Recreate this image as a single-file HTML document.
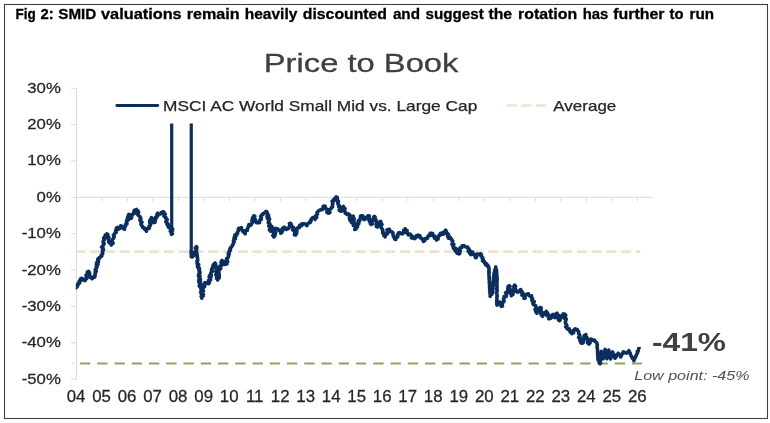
<!DOCTYPE html>
<html lang="en"><head><meta charset="utf-8"><title>Fig 2: SMID valuations</title>
<style>
html,body{margin:0;padding:0;background:#fff;}
body{width:770px;height:423px;overflow:hidden;}
svg{display:block;will-change:transform;}
text{font-family:"Liberation Sans",Arial,sans-serif;}
</style></head><body>
<svg width="770" height="423" viewBox="0 0 770 423">
<rect x="0" y="0" width="770" height="423" fill="#ffffff"/>
<rect x="4.5" y="4.5" width="763" height="414" fill="none" stroke="#404040" stroke-width="1.1"/>
<text y="18.8" font-size="14.9" font-weight="bold" fill="#000" stroke="#000" stroke-width="0.3"><tspan x="15.5" textLength="20.3" lengthAdjust="spacingAndGlyphs">Fig</tspan> <tspan x="40.5" textLength="13.2" lengthAdjust="spacingAndGlyphs">2:</tspan> <tspan x="58.3" textLength="38.0" lengthAdjust="spacingAndGlyphs">SMID</tspan> <tspan x="101.0" textLength="80.7" lengthAdjust="spacingAndGlyphs">valuations</tspan> <tspan x="186.7" textLength="52.9" lengthAdjust="spacingAndGlyphs">remain</tspan> <tspan x="244.7" textLength="52.7" lengthAdjust="spacingAndGlyphs">heavily</tspan> <tspan x="302.8" textLength="84.2" lengthAdjust="spacingAndGlyphs">discounted</tspan> <tspan x="392.9" textLength="27.1" lengthAdjust="spacingAndGlyphs">and</tspan> <tspan x="425.5" textLength="58.3" lengthAdjust="spacingAndGlyphs">suggest</tspan> <tspan x="488.4" textLength="23.7" lengthAdjust="spacingAndGlyphs">the</tspan> <tspan x="518.0" textLength="59.1" lengthAdjust="spacingAndGlyphs">rotation</tspan> <tspan x="582.7" textLength="25.7" lengthAdjust="spacingAndGlyphs">has</tspan> <tspan x="613.2" textLength="51.3" lengthAdjust="spacingAndGlyphs">further</tspan> <tspan x="669.6" textLength="14.0" lengthAdjust="spacingAndGlyphs">to</tspan> <tspan x="689.5" textLength="24.5" lengthAdjust="spacingAndGlyphs">run</tspan></text>
<text x="263.8" y="72.3" font-size="26.6" fill="#404040" stroke="#404040" stroke-width="0.3" textLength="194.6" lengthAdjust="spacingAndGlyphs">Price to Book</text>
<g stroke="#dcdcdc" stroke-width="1" fill="none">
<path d="M76.5,88 V379"/>
<path d="M71,88.3 H76.5"/>
<path d="M71,124.7 H76.5"/>
<path d="M71,161.0 H76.5"/>
<path d="M71,197.4 H76.5"/>
<path d="M71,233.7 H76.5"/>
<path d="M71,270.1 H76.5"/>
<path d="M71,306.4 H76.5"/>
<path d="M71,342.8 H76.5"/>
<path d="M71,379.1 H76.5"/>
<path d="M76.5,197.3 H653.4"/>
<path d="M101.9,197.3 V201.5"/>
<path d="M127.4,197.3 V201.5"/>
<path d="M152.9,197.3 V201.5"/>
<path d="M178.4,197.3 V201.5"/>
<path d="M203.9,197.3 V201.5"/>
<path d="M229.4,197.3 V201.5"/>
<path d="M254.9,197.3 V201.5"/>
<path d="M280.4,197.3 V201.5"/>
<path d="M305.9,197.3 V201.5"/>
<path d="M331.4,197.3 V201.5"/>
<path d="M356.9,197.3 V201.5"/>
<path d="M382.4,197.3 V201.5"/>
<path d="M407.9,197.3 V201.5"/>
<path d="M433.4,197.3 V201.5"/>
<path d="M458.9,197.3 V201.5"/>
<path d="M484.4,197.3 V201.5"/>
<path d="M509.9,197.3 V201.5"/>
<path d="M535.4,197.3 V201.5"/>
<path d="M560.9,197.3 V201.5"/>
<path d="M586.4,197.3 V201.5"/>
<path d="M611.9,197.3 V201.5"/>
<path d="M637.4,197.3 V201.5"/>
</g>
<text x="60.8" y="92.8" font-size="14.7" fill="#262626" stroke="#262626" stroke-width="0.25" text-anchor="end" transform="translate(60.8 0) scale(1.14 1) translate(-60.8 0)">30%</text>
<text x="60.8" y="129.2" font-size="14.7" fill="#262626" stroke="#262626" stroke-width="0.25" text-anchor="end" transform="translate(60.8 0) scale(1.14 1) translate(-60.8 0)">20%</text>
<text x="60.8" y="165.5" font-size="14.7" fill="#262626" stroke="#262626" stroke-width="0.25" text-anchor="end" transform="translate(60.8 0) scale(1.14 1) translate(-60.8 0)">10%</text>
<text x="60.8" y="201.9" font-size="14.7" fill="#262626" stroke="#262626" stroke-width="0.25" text-anchor="end" transform="translate(60.8 0) scale(1.14 1) translate(-60.8 0)">0%</text>
<text x="60.8" y="238.2" font-size="14.7" fill="#262626" stroke="#262626" stroke-width="0.25" text-anchor="end" transform="translate(60.8 0) scale(1.14 1) translate(-60.8 0)">-10%</text>
<text x="60.8" y="274.6" font-size="14.7" fill="#262626" stroke="#262626" stroke-width="0.25" text-anchor="end" transform="translate(60.8 0) scale(1.14 1) translate(-60.8 0)">-20%</text>
<text x="60.8" y="310.9" font-size="14.7" fill="#262626" stroke="#262626" stroke-width="0.25" text-anchor="end" transform="translate(60.8 0) scale(1.14 1) translate(-60.8 0)">-30%</text>
<text x="60.8" y="347.2" font-size="14.7" fill="#262626" stroke="#262626" stroke-width="0.25" text-anchor="end" transform="translate(60.8 0) scale(1.14 1) translate(-60.8 0)">-40%</text>
<text x="60.8" y="383.6" font-size="14.7" fill="#262626" stroke="#262626" stroke-width="0.25" text-anchor="end" transform="translate(60.8 0) scale(1.14 1) translate(-60.8 0)">-50%</text>
<text x="76.1" y="401.7" font-size="15.9" fill="#262626" stroke="#262626" stroke-width="0.25" text-anchor="middle" transform="translate(76.1 0) scale(1.06 1) translate(-76.1 0)">04</text>
<text x="101.6" y="401.7" font-size="15.9" fill="#262626" stroke="#262626" stroke-width="0.25" text-anchor="middle" transform="translate(101.6 0) scale(1.06 1) translate(-101.6 0)">05</text>
<text x="127.1" y="401.7" font-size="15.9" fill="#262626" stroke="#262626" stroke-width="0.25" text-anchor="middle" transform="translate(127.1 0) scale(1.06 1) translate(-127.1 0)">06</text>
<text x="152.6" y="401.7" font-size="15.9" fill="#262626" stroke="#262626" stroke-width="0.25" text-anchor="middle" transform="translate(152.6 0) scale(1.06 1) translate(-152.6 0)">07</text>
<text x="178.1" y="401.7" font-size="15.9" fill="#262626" stroke="#262626" stroke-width="0.25" text-anchor="middle" transform="translate(178.1 0) scale(1.06 1) translate(-178.1 0)">08</text>
<text x="203.7" y="401.7" font-size="15.9" fill="#262626" stroke="#262626" stroke-width="0.25" text-anchor="middle" transform="translate(203.7 0) scale(1.06 1) translate(-203.7 0)">09</text>
<text x="229.2" y="401.7" font-size="15.9" fill="#262626" stroke="#262626" stroke-width="0.25" text-anchor="middle" transform="translate(229.2 0) scale(1.06 1) translate(-229.2 0)">10</text>
<text x="254.7" y="401.7" font-size="15.9" fill="#262626" stroke="#262626" stroke-width="0.25" text-anchor="middle" transform="translate(254.7 0) scale(1.06 1) translate(-254.7 0)">11</text>
<text x="280.2" y="401.7" font-size="15.9" fill="#262626" stroke="#262626" stroke-width="0.25" text-anchor="middle" transform="translate(280.2 0) scale(1.06 1) translate(-280.2 0)">12</text>
<text x="305.7" y="401.7" font-size="15.9" fill="#262626" stroke="#262626" stroke-width="0.25" text-anchor="middle" transform="translate(305.7 0) scale(1.06 1) translate(-305.7 0)">13</text>
<text x="331.2" y="401.7" font-size="15.9" fill="#262626" stroke="#262626" stroke-width="0.25" text-anchor="middle" transform="translate(331.2 0) scale(1.06 1) translate(-331.2 0)">14</text>
<text x="356.7" y="401.7" font-size="15.9" fill="#262626" stroke="#262626" stroke-width="0.25" text-anchor="middle" transform="translate(356.7 0) scale(1.06 1) translate(-356.7 0)">15</text>
<text x="382.2" y="401.7" font-size="15.9" fill="#262626" stroke="#262626" stroke-width="0.25" text-anchor="middle" transform="translate(382.2 0) scale(1.06 1) translate(-382.2 0)">16</text>
<text x="407.7" y="401.7" font-size="15.9" fill="#262626" stroke="#262626" stroke-width="0.25" text-anchor="middle" transform="translate(407.7 0) scale(1.06 1) translate(-407.7 0)">17</text>
<text x="433.2" y="401.7" font-size="15.9" fill="#262626" stroke="#262626" stroke-width="0.25" text-anchor="middle" transform="translate(433.2 0) scale(1.06 1) translate(-433.2 0)">18</text>
<text x="458.8" y="401.7" font-size="15.9" fill="#262626" stroke="#262626" stroke-width="0.25" text-anchor="middle" transform="translate(458.8 0) scale(1.06 1) translate(-458.8 0)">19</text>
<text x="484.3" y="401.7" font-size="15.9" fill="#262626" stroke="#262626" stroke-width="0.25" text-anchor="middle" transform="translate(484.3 0) scale(1.06 1) translate(-484.3 0)">20</text>
<text x="509.8" y="401.7" font-size="15.9" fill="#262626" stroke="#262626" stroke-width="0.25" text-anchor="middle" transform="translate(509.8 0) scale(1.06 1) translate(-509.8 0)">21</text>
<text x="535.3" y="401.7" font-size="15.9" fill="#262626" stroke="#262626" stroke-width="0.25" text-anchor="middle" transform="translate(535.3 0) scale(1.06 1) translate(-535.3 0)">22</text>
<text x="560.8" y="401.7" font-size="15.9" fill="#262626" stroke="#262626" stroke-width="0.25" text-anchor="middle" transform="translate(560.8 0) scale(1.06 1) translate(-560.8 0)">23</text>
<text x="586.3" y="401.7" font-size="15.9" fill="#262626" stroke="#262626" stroke-width="0.25" text-anchor="middle" transform="translate(586.3 0) scale(1.06 1) translate(-586.3 0)">24</text>
<text x="611.8" y="401.7" font-size="15.9" fill="#262626" stroke="#262626" stroke-width="0.25" text-anchor="middle" transform="translate(611.8 0) scale(1.06 1) translate(-611.8 0)">25</text>
<text x="637.3" y="401.7" font-size="15.9" fill="#262626" stroke="#262626" stroke-width="0.25" text-anchor="middle" transform="translate(637.3 0) scale(1.06 1) translate(-637.3 0)">26</text>
<clipPath id="plotclip"><rect x="75.8" y="80" width="600" height="320"/></clipPath>
<path clip-path="url(#plotclip)" d="M76.6,251.7 H639.2" stroke="#eae3ce" stroke-width="2.8" stroke-dasharray="7.6 7.15" stroke-linecap="round" fill="none"/>
<path d="M80,363.45 H642" stroke="#92a354" stroke-width="2" stroke-dasharray="10.3 6.95" fill="none"/>
<path d="M72.3,363.45 H73.3" stroke="#92a354" stroke-width="1.6" opacity="0.6"/>
<path clip-path="url(#plotclip)" d="M74.5,290.0 L74.8,288.9 L75.1,287.8 L76.3,287.4 L77.1,286.9 L76.6,285.4 L77.9,285.3 L78.1,284.4 L78.1,283.3 L79.4,283.2 L79.8,282.4 L79.3,281.1 L80.5,280.6 L80.2,279.4 L80.7,278.6 L81.9,278.2 L82.8,278.7 L83.0,280.0 L84.7,279.4 L85.0,280.7 L84.7,279.7 L85.8,279.2 L86.8,278.7 L86.3,277.6 L86.2,276.7 L87.7,276.4 L86.1,274.9 L88.1,274.7 L87.2,273.5 L87.2,272.6 L87.4,271.8 L88.5,271.3 L89.1,272.0 L88.3,273.1 L89.8,273.6 L89.2,274.6 L89.3,275.4 L90.1,276.1 L90.0,277.0 L90.7,277.7 L92.1,277.4 L92.3,278.8 L92.3,277.5 L93.2,277.1 L94.6,277.2 L95.0,276.3 L95.0,275.4 L94.8,274.6 L95.5,273.8 L95.3,273.0 L95.1,272.1 L96.3,271.4 L96.2,270.5 L95.3,269.6 L96.1,268.8 L96.1,268.0 L97.0,267.2 L96.3,266.3 L97.1,265.7 L96.4,264.5 L98.1,264.3 L96.6,262.8 L97.5,262.2 L98.5,261.7 L97.6,260.4 L98.5,259.9 L97.9,258.8 L99.5,258.4 L99.4,257.5 L100.4,257.3 L100.7,256.4 L101.7,256.2 L101.4,254.7 L102.3,254.4 L102.8,253.6 L102.6,252.8 L102.6,252.0 L102.3,251.2 L103.2,250.4 L103.5,249.6 L102.5,248.7 L102.9,247.9 L101.6,247.1 L102.6,246.3 L103.2,245.5 L103.3,244.6 L104.2,243.8 L104.0,242.9 L103.0,241.8 L103.4,240.9 L103.8,240.1 L104.5,239.5 L103.6,238.1 L104.9,237.7 L104.7,236.6 L105.0,235.8 L105.3,234.9 L107.0,234.8 L106.9,233.8 L107.9,234.4 L107.9,235.2 L107.8,236.1 L107.1,237.2 L109.0,237.5 L108.4,238.5 L108.5,239.3 L108.8,240.1 L108.5,241.3 L109.0,242.1 L109.3,243.0 L110.9,243.2 L111.1,244.2 L111.3,245.1 L111.3,244.2 L112.7,243.7 L113.1,242.9 L111.7,241.5 L112.0,240.7 L112.4,239.9 L112.7,239.1 L113.5,238.4 L113.8,237.6 L114.2,236.9 L113.7,235.9 L113.4,235.0 L114.5,234.4 L114.6,233.6 L115.2,232.9 L116.2,232.4 L115.9,231.4 L115.7,230.6 L116.1,229.8 L116.5,229.1 L116.3,228.2 L117.4,227.4 L117.8,229.5 L118.8,228.8 L119.8,228.3 L120.5,227.7 L120.8,226.8 L120.7,225.7 L121.5,226.1 L122.1,226.8 L123.2,226.9 L123.0,228.4 L124.5,228.1 L124.5,229.4 L124.0,228.2 L124.6,227.5 L124.9,226.7 L125.6,226.1 L125.4,225.0 L125.6,224.2 L127.0,223.8 L126.4,222.8 L126.5,221.9 L127.2,221.2 L126.6,220.2 L128.6,219.7 L128.2,218.7 L127.4,217.7 L127.8,216.9 L128.1,216.0 L128.3,215.2 L128.8,214.4 L130.0,214.7 L129.2,216.4 L129.5,217.3 L130.9,217.4 L131.4,218.2 L131.7,217.4 L131.3,216.2 L131.7,215.4 L132.5,214.8 L132.7,213.9 L134.2,213.6 L133.9,212.5 L133.9,211.3 L134.3,210.3 L136.5,210.8 L136.4,209.4 L136.7,210.2 L137.8,210.6 L137.3,211.7 L138.7,212.0 L138.1,213.3 L137.5,214.4 L138.1,215.1 L138.8,215.7 L139.5,216.3 L140.2,216.9 L140.3,217.8 L140.9,218.4 L139.9,219.6 L140.6,220.2 L140.3,221.1 L141.5,221.6 L142.0,222.3 L141.0,223.4 L140.9,224.3 L141.4,225.0 L141.7,225.7 L142.6,226.3 L142.6,227.4 L143.3,228.0 L144.7,228.1 L144.7,229.2 L145.6,229.7 L146.7,230.0 L146.4,231.3 L145.9,230.1 L146.8,229.6 L147.2,228.8 L148.4,228.6 L149.4,228.1 L148.9,226.9 L149.0,226.1 L150.2,225.6 L150.6,224.8 L150.7,224.0 L149.7,222.9 L149.6,222.0 L149.8,221.3 L149.9,220.5 L150.1,219.7 L151.2,219.1 L152.0,218.5 L151.4,217.5 L151.1,218.6 L152.2,218.9 L152.2,219.8 L152.2,220.7 L154.0,220.7 L153.2,222.0 L153.9,222.6 L155.1,222.2 L155.1,221.3 L155.4,220.5 L155.1,219.4 L154.8,218.4 L156.4,218.1 L155.8,217.0 L157.0,216.6 L157.7,215.9 L156.9,214.7 L157.2,213.9 L157.7,213.2 L158.5,214.4 L159.7,214.1 L160.8,213.8 L161.2,212.7 L161.9,212.2 L162.7,211.7 L163.9,211.9 L163.3,212.9 L163.7,213.7 L165.3,214.1 L164.1,215.3 L164.0,216.2 L164.9,216.8 L165.8,217.4 L165.6,218.3 L166.7,218.9 L167.2,219.6 L166.4,220.7 L165.8,221.9 L166.8,222.4 L167.4,223.1 L167.0,224.3 L168.3,224.6 L167.8,225.8 L168.9,226.3 L168.5,227.3 L170.0,227.7 L170.2,228.6 L170.4,229.4 L170.7,230.2 L170.3,231.3 L171.2,231.9 L171.1,232.8 L172.0,233.4 L171.5,234.5 L172.4,233.7 L171.2,232.9 L171.5,232.1 L171.8,231.3 L172.5,230.5 L171.5,229.6 L172.6,228.8 L171.7,228.0" stroke="#0a2f5f" stroke-width="3.55" fill="none" stroke-linejoin="round" stroke-linecap="butt"/>
<path d="M191.3,250.0 L191.3,250.8 L191.2,251.7 L191.2,252.6 L192.4,253.4 L191.4,254.2 L192.0,255.1 L192.4,256.0 L191.3,256.8 L192.4,257.0 L192.6,255.3 L193.8,255.5 L194.1,254.6 L194.9,254.0 L194.9,253.0 L194.7,252.0 L195.4,251.3 L195.7,250.5 L195.9,249.7 L196.6,249.0 L195.2,247.9 L196.3,247.2 L196.3,246.4 L196.9,247.2 L196.9,248.0 L195.9,248.9 L196.5,249.7 L196.6,250.5 L196.6,251.3 L196.2,252.2 L196.0,253.1 L197.1,253.8 L196.9,254.7 L197.2,255.5 L197.3,256.3 L197.0,257.2 L197.5,258.0 L197.7,258.8 L197.6,259.7 L197.8,260.5 L196.9,261.5 L197.5,262.2 L197.2,263.1 L197.1,264.0 L198.7,264.7 L198.1,265.6 L197.4,266.5 L197.7,267.3 L199.3,268.0 L199.5,268.8 L198.8,269.7 L198.8,270.6 L199.8,271.3 L199.5,272.2 L200.0,273.0 L198.7,274.0 L198.6,274.8 L198.4,275.7 L200.1,276.4 L199.0,277.3 L199.2,278.1 L200.4,278.9 L198.8,279.8 L198.7,280.7 L200.5,281.4 L198.9,282.4 L200.0,283.1 L200.3,283.9 L200.2,284.8 L199.2,285.7 L199.7,286.5 L201.3,287.2 L200.8,288.1 L200.7,288.9 L201.2,289.7 L201.6,290.5 L201.5,291.4 L200.7,292.3 L202.3,293.0 L201.3,293.9 L201.6,294.8 L202.6,295.5 L202.1,296.4 L201.5,297.3 L201.9,298.1 L202.0,297.3 L201.2,296.3 L203.3,295.7 L203.0,294.8 L203.5,294.1 L201.7,293.0 L202.1,292.2 L201.8,291.3 L203.5,290.7 L202.5,289.7 L202.3,288.8 L203.2,288.1 L203.3,287.2 L204.6,286.8 L204.6,285.9 L203.7,284.7 L203.8,283.9 L205.6,283.6 L205.0,282.5 L205.9,282.9 L206.8,283.5 L208.1,282.5 L208.8,283.7 L208.0,282.7 L209.5,282.2 L209.1,281.3 L208.5,280.3 L210.6,279.9 L210.1,279.0 L210.6,278.3 L209.2,277.2 L211.1,276.7 L209.5,275.6 L211.4,275.1 L210.7,274.2 L210.6,273.3 L211.2,272.6 L211.3,271.8 L212.5,271.4 L211.5,270.0 L211.6,269.1 L212.7,268.6 L212.5,267.6 L212.6,266.7 L213.0,265.9 L213.2,265.0 L213.8,264.3 L214.4,263.6 L215.1,263.0 L215.6,263.7 L214.8,264.7 L215.9,265.4 L215.6,266.2 L216.4,266.9 L216.1,267.8 L217.0,268.5 L216.6,269.4 L217.2,270.1 L215.8,271.2 L216.3,271.9 L217.2,272.6 L216.7,273.5 L215.8,274.5 L217.7,275.0 L216.3,276.1 L217.3,276.7 L217.3,277.6 L216.6,278.5 L217.7,279.2 L217.6,280.0 L217.8,279.2 L218.4,278.4 L219.2,277.8 L218.0,276.6 L219.3,276.1 L219.2,275.2 L219.2,274.3 L218.9,273.4 L219.0,272.5 L218.6,271.5 L218.9,270.8 L219.0,269.9 L220.1,269.3 L220.8,268.6 L219.9,267.6 L219.9,266.7 L219.9,265.9 L221.7,265.5 L221.9,264.7 L221.7,263.8 L221.0,262.8 L221.1,262.0 L221.4,261.2 L222.0,260.5 L222.7,261.1 L223.8,261.2 L223.9,262.3 L224.8,262.7 L224.4,264.4 L225.7,264.3 L227.0,263.9 L226.4,262.8 L226.0,261.8 L227.8,261.6 L226.7,260.3 L227.1,259.6 L226.6,258.6 L227.7,258.1 L228.2,257.4 L228.4,256.6 L228.7,255.8 L228.3,254.8 L229.2,254.2 L228.4,253.1 L229.2,252.5 L229.0,251.6 L229.9,251.0 L230.4,250.3 L229.8,249.1 L230.1,248.3 L231.0,247.8 L231.1,247.0 L232.0,246.4 L232.4,245.7 L232.5,244.8 L233.2,244.2 L233.3,243.4 L233.6,242.6 L234.2,241.9 L233.4,240.8 L233.9,240.1 L233.9,239.2 L235.5,238.9 L234.1,237.5 L235.6,237.1 L235.8,236.3 L234.8,235.0 L236.8,234.9 L236.4,233.8 L237.6,233.3 L237.4,232.2 L238.0,231.4 L238.6,230.6 L238.3,229.4 L238.7,228.3 L239.9,228.5 L240.6,228.1 L241.4,227.6 L241.2,228.7 L241.7,229.3 L242.1,230.0 L242.9,230.5 L242.8,231.5 L243.6,231.9 L244.0,232.6 L245.3,232.8 L245.2,233.8 L244.6,232.7 L245.1,232.0 L245.8,231.4 L245.6,230.5 L247.4,230.3 L247.2,229.3 L247.6,228.7 L247.9,227.9 L248.4,227.2 L248.3,226.3 L248.9,225.8 L248.9,224.4 L250.6,225.3 L251.2,224.7 L251.5,223.7 L252.1,223.2 L252.4,222.4 L252.8,221.6 L251.8,220.5 L253.4,220.0 L252.6,218.9 L252.4,218.0 L253.0,217.2 L254.2,216.7 L253.9,215.7 L254.8,216.3 L253.9,217.4 L253.6,218.3 L254.9,218.8 L255.3,219.5 L255.4,220.3 L255.2,221.2 L255.8,221.9 L256.6,222.7 L257.7,222.5 L258.6,222.7 L259.6,222.6 L259.0,221.5 L259.4,220.7 L259.9,220.0 L261.2,219.6 L260.6,218.5 L261.4,217.8 L260.6,216.6 L260.9,215.9 L261.7,215.2 L262.8,214.7 L262.7,213.8 L263.8,213.5 L264.6,212.8 L265.2,211.9 L266.0,211.4 L266.9,211.9 L267.1,212.7 L267.4,213.5 L267.5,214.3 L268.5,215.0 L267.0,216.2 L268.7,216.7 L267.2,217.9 L267.5,218.7 L269.6,219.0 L268.8,220.1 L269.0,220.9 L268.4,221.8 L268.2,222.7 L269.4,223.3 L269.9,224.1 L270.2,224.8 L268.7,225.9 L270.5,226.5 L269.8,227.4 L270.9,228.0 L270.2,229.0 L269.4,229.9 L271.3,230.5 L270.6,231.4 L271.5,230.7 L271.1,229.7 L272.1,229.1 L271.9,228.1 L271.1,227.0 L271.9,226.3 L271.2,227.3 L272.2,227.9 L273.4,228.6 L273.6,229.4 L272.6,230.4 L272.9,231.2 L273.4,232.0 L273.8,232.7 L273.6,233.6 L273.8,234.5 L272.8,235.5 L274.7,236.0 L273.8,237.0 L274.5,236.3 L274.9,235.6 L273.5,234.4 L275.4,234.0 L275.1,233.1 L275.7,232.4 L274.6,231.3 L274.9,230.5 L275.1,229.8 L276.6,229.2 L275.7,228.2 L276.5,228.7 L277.5,228.8 L278.3,229.4 L278.7,230.2 L279.5,230.7 L280.4,231.1 L280.9,232.0 L280.7,233.2 L281.7,232.7 L281.0,231.4 L282.6,231.2 L281.6,229.8 L282.0,229.0 L282.9,228.4 L283.2,227.6 L284.3,227.2 L285.0,227.8 L285.6,229.3 L286.5,229.4 L287.6,228.8 L288.6,228.4 L288.6,227.5 L289.6,227.1 L290.0,226.5 L289.6,225.4 L290.3,224.8 L289.4,223.4 L290.7,223.2 L290.6,224.2 L291.5,224.8 L291.3,225.8 L291.8,226.5 L292.9,227.0 L293.7,227.6 L293.2,228.8 L292.6,229.9 L294.6,230.1 L294.2,231.1 L294.8,231.8 L295.2,232.6 L294.6,233.7 L294.4,234.7 L295.7,235.1 L295.5,234.1 L296.6,233.5 L296.1,232.5 L296.9,231.8 L296.9,230.9 L296.7,229.9 L296.9,229.0 L297.3,228.2 L298.2,227.6 L299.5,227.6 L299.4,226.3 L299.6,225.3 L301.3,225.7 L302.1,225.2 L301.9,223.8 L302.8,224.0 L303.9,223.7 L304.7,224.1 L305.6,224.2 L306.3,225.1 L307.0,225.7 L306.8,224.4 L307.6,223.9 L308.1,223.2 L309.2,222.9 L310.3,222.5 L310.1,221.3 L311.1,220.9 L310.9,219.7 L311.4,219.0 L312.1,218.4 L312.6,217.6 L313.6,218.0 L314.5,218.5 L315.1,219.4 L314.4,218.3 L315.1,217.7 L316.8,217.4 L315.3,216.1 L316.3,215.5 L316.8,214.8 L317.5,214.2 L317.0,213.2 L317.2,212.1 L317.9,211.6 L318.5,210.9 L319.3,210.6 L320.1,210.1 L320.8,209.5 L322.2,209.8 L322.7,209.1 L323.5,208.6 L323.1,206.5 L323.9,206.0 L325.2,206.3 L325.1,207.3 L325.1,208.2 L326.3,208.6 L326.4,209.4 L327.9,209.7 L327.5,210.8 L326.8,212.1 L327.3,212.7 L328.3,213.2 L329.4,212.9 L330.0,212.3 L329.0,210.8 L329.1,209.9 L329.6,209.3 L330.7,208.9 L331.4,208.4 L331.4,207.5 L332.6,206.9 L332.3,205.9 L332.4,205.0 L332.9,204.3 L332.5,203.2 L332.9,202.4 L332.1,201.3 L333.3,200.7 L334.3,200.5 L333.9,199.1 L335.6,199.4 L335.6,198.4 L335.5,197.3 L336.4,196.9 L337.4,197.5 L337.3,198.4 L336.7,199.4 L336.7,200.2 L338.2,200.8 L338.5,201.5 L337.7,202.6 L337.7,203.4 L338.3,204.1 L338.3,205.0 L339.2,205.6 L338.7,206.7 L340.2,207.0 L340.0,208.0 L339.9,208.9 L339.2,210.1 L340.2,210.6 L340.8,211.3 L342.0,210.8 L341.6,209.6 L341.5,208.5 L342.0,207.7 L343.8,207.6 L343.3,206.3 L343.1,207.3 L344.2,207.9 L345.0,208.6 L344.3,209.7 L344.1,210.7 L344.9,211.4 L345.5,212.2 L345.2,213.2 L346.2,213.8 L347.1,214.5 L348.3,213.8 L349.2,214.4 L349.8,215.0 L349.5,216.1 L349.6,216.9 L349.4,217.9 L350.7,218.4 L349.7,219.6 L350.1,220.4 L350.9,221.0 L351.8,221.6 L351.5,222.6 L352.7,222.0 L351.5,220.8 L352.8,220.3 L351.8,219.2 L352.0,218.3 L353.3,217.8 L352.6,216.7 L353.2,216.0 L352.3,217.0 L353.4,217.7 L354.2,218.5 L354.2,219.3 L353.9,220.2 L353.4,221.1 L352.9,222.0 L354.8,222.7 L354.3,223.6 L354.8,224.4 L353.3,225.4 L355.2,226.0 L355.5,226.9 L355.6,227.7 L354.9,228.6 L354.8,229.5 L356.0,229.1 L356.3,228.4 L356.5,227.5 L357.4,227.0 L357.6,226.1 L356.9,224.8 L357.0,223.9 L358.8,223.9 L358.9,222.9 L358.8,221.9 L358.3,220.7 L359.9,220.5 L359.7,219.5 L360.1,218.7 L360.4,217.9 L360.5,216.9 L360.5,216.0 L361.9,215.7 L362.8,216.0 L363.2,216.7 L362.7,218.2 L364.6,217.6 L363.7,219.4 L365.0,219.4 L365.0,218.4 L365.8,218.0 L367.1,218.0 L367.7,217.4 L367.6,216.2 L368.2,215.7 L369.4,216.2 L368.8,217.3 L369.3,218.0 L368.5,219.2 L370.2,219.4 L370.2,220.3 L369.4,221.5 L371.4,221.7 L370.9,222.8 L370.4,223.8 L371.3,224.4 L372.2,223.8 L371.0,222.4 L371.3,221.6 L371.6,220.8 L373.7,220.7 L372.7,219.3 L374.0,218.9 L374.6,218.2 L373.8,217.0 L374.4,216.3 L375.1,217.0 L373.9,218.2 L374.9,218.8 L375.9,219.4 L375.2,220.6 L376.3,221.1 L376.6,221.9 L377.4,222.6 L376.1,223.9 L376.0,224.8 L376.8,225.4 L376.4,226.5 L377.6,227.0 L377.1,225.8 L377.9,225.3 L378.7,224.8 L380.0,224.6 L380.4,223.9 L379.7,222.6 L379.8,221.8 L380.7,221.3 L381.0,222.1 L381.0,223.0 L380.2,224.0 L382.0,224.5 L380.8,225.6 L381.1,226.4 L381.1,227.3 L381.4,228.1 L381.9,228.8 L382.7,229.6 L382.8,230.4 L382.6,231.3 L383.2,232.0 L382.7,233.2 L384.5,233.4 L384.6,234.3 L383.9,235.6 L385.3,236.0 L385.1,237.0 L384.5,235.9 L384.8,235.1 L386.1,234.8 L386.0,233.9 L387.6,233.7 L387.7,232.8 L388.3,232.2 L387.1,230.8 L387.0,229.9 L388.2,229.5 L389.4,229.3 L389.7,230.5 L390.2,231.4 L391.3,231.4 L392.0,232.0 L392.9,232.5 L392.9,233.4 L392.9,234.4 L393.1,235.2 L393.4,236.0 L393.5,236.8 L394.3,237.4 L395.7,237.6 L394.7,239.1 L395.7,239.5 L395.7,238.5 L396.7,238.0 L396.7,237.1 L397.8,236.7 L397.2,235.3 L397.7,234.6 L398.2,233.9 L398.4,233.0 L399.5,232.6 L400.0,233.7 L401.0,233.4 L402.0,233.1 L402.6,233.8 L402.8,232.9 L404.4,232.6 L403.9,231.3 L403.7,230.2 L405.3,229.9 L405.1,228.8 L405.3,229.7 L405.1,230.8 L407.2,230.5 L407.0,231.6 L406.8,232.7 L407.2,233.5 L408.3,233.8 L408.3,235.0 L410.2,234.1 L410.5,235.1 L411.4,235.4 L411.9,236.0 L411.4,237.9 L412.6,237.8 L413.3,238.2 L414.5,238.6 L414.6,237.1 L415.9,237.6 L416.1,236.3 L416.6,235.5 L417.9,236.1 L418.3,235.1 L418.0,236.3 L420.0,235.8 L419.6,237.1 L420.1,237.8 L421.3,237.9 L421.5,238.7 L422.4,239.0 L422.8,239.7 L423.2,240.4 L423.3,241.4 L424.1,241.0 L424.8,240.6 L424.8,239.3 L425.1,238.4 L426.2,238.4 L427.3,238.4 L427.7,237.6 L427.7,236.5 L428.5,236.1 L428.8,235.3 L430.4,235.5 L430.5,234.5 L430.2,233.2 L431.5,233.2 L432.7,233.4 L432.7,234.4 L432.9,235.3 L433.3,236.1 L434.7,236.1 L435.1,236.9 L434.7,238.3 L435.7,238.6 L436.4,239.1 L436.5,240.1 L436.6,239.1 L438.2,239.1 L437.4,237.6 L438.4,237.2 L438.4,236.2 L438.9,235.5 L440.2,235.2 L440.9,234.6 L440.4,233.3 L441.3,233.2 L442.2,232.9 L442.9,234.2 L443.8,233.9 L443.6,232.8 L443.6,231.9 L445.7,232.0 L445.2,230.8 L445.7,230.1 L445.3,231.1 L446.4,231.6 L445.7,232.7 L446.9,233.1 L447.8,233.7 L448.4,234.3 L447.5,235.5 L447.6,236.3 L448.2,237.0 L448.5,238.2 L450.2,237.2 L450.4,238.7 L451.3,238.9 L451.8,239.6 L451.8,240.5 L452.8,241.1 L452.8,242.0 L452.5,243.0 L451.9,244.1 L453.9,244.4 L453.3,245.5 L452.9,246.5 L453.8,247.1 L453.5,248.4 L455.3,248.1 L456.0,248.7 L455.0,250.4 L455.5,251.2 L456.8,251.2 L458.1,251.4 L457.0,253.2 L458.5,253.2 L458.8,254.0 L459.8,253.4 L459.4,252.5 L460.0,251.8 L458.7,250.7 L460.2,250.2 L459.2,249.2 L459.7,248.4 L460.1,247.7 L461.3,247.9 L462.0,247.4 L462.1,245.7 L463.2,245.8 L464.3,245.7 L465.0,246.4 L465.7,247.1 L466.6,247.2 L467.7,247.1 L468.2,248.3 L469.0,248.9 L468.4,250.1 L468.3,251.0 L470.4,251.1 L469.6,252.3 L469.5,253.2 L471.3,253.4 L470.7,254.6 L471.9,254.2 L471.3,252.4 L472.6,252.1 L472.8,252.9 L473.3,253.6 L473.5,254.3 L474.5,254.7 L474.7,255.5 L474.8,256.4 L475.5,256.9 L475.7,257.7 L476.5,257.2 L476.6,256.2 L477.1,255.4 L476.8,254.2 L478.2,254.0 L479.0,254.4 L479.8,254.2 L480.7,253.8 L481.4,254.5 L481.0,255.4 L481.1,256.2 L481.9,256.8 L482.7,257.5 L482.2,258.4 L483.1,259.1 L483.3,259.9 L482.6,260.8 L483.3,261.3 L484.4,261.5 L484.3,262.6 L484.8,263.3 L486.1,263.3 L485.6,264.8 L486.4,265.2 L487.8,265.1 L487.7,266.8 L488.8,267.0 L488.7,267.8 L488.9,268.6 L489.2,269.4 L488.9,270.3 L489.1,271.1 L488.8,271.9 L489.3,272.7 L488.9,273.6 L488.8,274.4 L489.0,275.2 L489.0,276.0 L489.4,276.8 L489.0,277.7 L489.3,278.5 L489.1,279.3 L489.4,280.1 L489.2,280.9 L489.7,281.7 L489.3,282.6 L489.3,283.4 L489.8,284.2 L489.7,285.0 L489.5,285.8 L489.9,286.6 L489.5,287.4 L489.9,288.2 L489.6,289.1 L490.0,289.9 L489.9,290.7 L489.6,291.5 L490.1,292.3 L490.1,293.1 L490.0,294.0 L490.1,294.8 L490.3,295.6 L490.1,296.4 L490.4,295.5 L490.9,294.8 L491.8,294.3 L492.2,293.4 L492.6,292.6 L492.9,291.8 L492.5,290.9 L492.9,290.1 L492.6,289.3 L492.9,288.4 L493.0,287.6 L492.9,286.8 L493.3,285.9 L493.1,285.1 L493.2,284.3 L493.5,283.4 L493.0,282.6 L493.6,281.8 L493.5,280.9 L493.4,280.1 L493.7,279.3 L493.4,278.4 L493.9,277.6 L493.7,276.8 L493.7,275.9 L493.8,275.1 L494.1,274.3 L494.1,273.5 L494.2,272.6 L494.7,271.9 L494.5,270.9 L495.1,270.2 L495.0,269.3 L495.4,268.6 L495.8,267.8 L495.7,266.9 L495.8,267.7 L495.8,268.6 L496.2,269.3 L496.5,270.1 L496.6,271.0 L496.6,271.8 L496.5,272.7 L496.7,273.5 L496.8,274.3 L496.9,275.1 L496.7,275.9 L497.1,276.7 L497.1,277.5 L496.8,278.3 L497.2,279.2 L497.2,280.0 L497.0,280.8 L497.1,281.6 L497.0,282.4 L497.1,283.2 L496.8,284.0 L496.8,284.8 L497.1,285.6 L496.8,286.5 L496.9,287.3 L497.1,288.1 L496.6,288.9 L497.1,289.7 L497.1,290.5 L497.1,291.3 L496.8,292.1 L496.7,292.9 L496.7,293.7 L497.0,294.6 L497.0,295.4 L497.2,296.2 L496.8,297.0 L496.9,297.8 L497.0,298.6 L496.8,299.4 L496.9,300.2 L496.6,301.0 L496.8,301.9 L497.1,302.7 L496.7,303.5 L497.2,304.3 L496.9,305.1 L497.5,304.3 L498.0,303.4 L498.3,302.4 L499.4,302.0 L500.7,302.5 L499.6,304.0 L501.5,304.2 L500.8,305.6 L501.3,306.4 L502.5,306.0 L501.2,304.5 L501.6,303.8 L502.8,303.3 L502.9,302.5 L503.5,301.8 L504.1,301.1 L503.8,300.1 L503.4,299.1 L504.0,298.4 L504.3,297.6 L504.1,296.6 L506.2,296.5 L506.3,295.7 L506.4,294.9 L506.3,293.9 L505.6,292.8 L507.6,292.7 L507.7,291.9 L507.4,290.9 L508.3,290.4 L507.9,289.4 L507.8,288.5 L507.8,287.6 L508.4,287.0 L508.3,286.1 L509.5,285.7 L510.0,286.5 L509.3,287.5 L509.6,288.3 L509.4,289.2 L509.8,290.0 L511.0,290.6 L510.5,291.6 L510.9,292.3 L510.3,293.3 L511.0,294.0 L511.7,294.8 L511.4,295.7 L511.9,295.0 L512.9,294.4 L511.5,293.1 L513.2,292.7 L511.6,291.3 L512.3,290.7 L512.5,289.8 L513.8,289.3 L514.5,288.6 L514.3,287.7 L513.7,286.6 L515.1,286.2 L514.5,285.1 L515.1,285.7 L515.6,286.4 L514.5,287.7 L515.3,288.3 L515.5,289.1 L515.8,289.8 L515.5,290.8 L516.8,291.2 L517.0,292.0 L518.2,292.1 L518.8,291.4 L519.7,291.2 L520.0,289.9 L520.8,289.5 L520.6,290.5 L521.2,291.1 L522.0,291.7 L522.5,292.5 L522.0,293.5 L523.4,293.9 L521.9,295.3 L523.8,295.6 L524.3,296.3 L524.4,297.1 L523.9,298.2 L525.2,298.2 L524.9,296.7 L525.2,295.8 L525.7,295.0 L526.3,294.3 L528.0,294.7 L528.3,293.8 L528.7,294.7 L529.3,295.5 L529.9,296.2 L531.6,295.9 L531.6,297.2 L531.7,298.1 L532.5,298.7 L531.8,299.8 L532.1,300.6 L532.3,301.4 L534.3,301.5 L532.9,303.0 L533.1,303.8 L533.4,304.6 L534.6,305.0 L535.7,305.6 L535.7,306.5 L536.1,307.2 L536.5,308.0 L535.0,309.3 L535.3,310.1 L535.9,310.8 L535.8,311.8 L536.4,312.5 L536.9,313.2 L536.9,312.3 L536.9,311.4 L537.3,310.6 L538.9,310.6 L538.3,309.3 L538.9,308.7 L539.5,308.1 L540.0,307.5 L541.2,308.0 L541.0,309.0 L541.1,309.8 L540.5,310.8 L541.4,311.4 L541.7,312.2 L540.6,313.4 L541.8,313.9 L541.3,314.9 L542.0,315.6 L542.5,316.3 L542.2,315.0 L543.4,314.8 L544.0,314.1 L545.1,313.8 L544.9,312.5 L546.1,312.3 L546.3,311.3 L546.5,312.2 L547.4,312.8 L546.4,314.1 L548.3,314.3 L547.0,315.7 L548.7,316.1 L549.3,316.8 L549.1,317.8 L548.8,318.8 L549.8,318.5 L550.7,318.2 L549.6,316.2 L551.0,316.3 L551.5,315.6 L552.6,315.5 L552.6,314.4 L553.6,314.6 L553.6,315.7 L554.4,316.1 L554.0,317.4 L555.1,317.6 L555.0,316.5 L556.8,316.2 L555.8,314.8 L556.0,313.8 L557.0,313.2 L556.9,314.2 L557.6,314.9 L558.6,315.4 L557.8,316.6 L559.3,317.1 L558.1,318.4 L558.5,319.2 L558.6,320.1 L559.5,320.7 L560.1,320.1 L560.0,319.1 L560.5,318.5 L560.8,317.8 L562.2,317.6 L561.0,316.1 L563.0,316.2 L562.6,315.1 L563.2,313.9 L564.1,314.0 L565.1,314.4 L565.7,315.2 L564.4,316.1 L565.3,316.9 L565.7,317.7 L564.7,318.6 L566.2,319.3 L565.8,320.2 L565.7,321.0 L565.3,321.9 L565.4,322.7 L565.7,323.5 L566.4,324.3 L566.5,325.1 L567.0,325.9 L565.6,326.8 L566.4,327.6 L567.0,328.5 L567.6,329.3 L569.2,328.9 L569.5,330.1 L570.1,330.8 L570.0,331.9 L570.9,332.4 L572.2,332.6 L572.0,333.8 L572.4,333.0 L573.6,332.8 L572.8,331.4 L573.2,330.6 L573.8,330.0 L575.0,329.7 L575.1,328.8 L575.5,330.0 L577.2,329.5 L577.6,330.7 L578.6,331.3 L578.6,332.2 L578.7,333.0 L578.6,334.0 L579.6,334.6 L579.5,335.5 L580.0,336.2 L578.6,337.6 L579.4,338.2 L580.1,338.9 L581.2,339.2 L579.9,340.8 L582.0,340.7 L581.8,341.7 L581.0,343.0 L582.3,343.2 L583.2,342.7 L583.4,341.8 L583.1,340.8 L583.0,339.8 L584.2,339.4 L583.4,338.1 L583.9,337.4 L584.6,336.8 L584.2,335.7 L585.3,335.2 L585.8,334.5 L585.4,335.5 L585.9,336.2 L586.6,336.9 L586.6,337.8 L587.2,338.5 L588.1,339.1 L587.4,340.2 L588.1,340.8 L587.6,341.9 L587.5,342.8 L588.8,343.3 L588.9,344.1 L589.4,343.4 L590.1,342.9 L589.8,341.8 L589.8,340.9 L591.1,340.7 L591.8,340.1 L591.4,339.0 L592.0,339.8 L592.8,339.9 L593.5,340.5 L594.5,340.0 L594.7,340.9 L595.2,341.6 L596.1,342.0 L596.8,342.6 L597.0,343.5 L597.0,344.3 L597.4,345.1 L597.2,346.0 L597.0,346.8 L597.2,347.7 L597.3,348.5 L597.6,349.3 L597.5,350.1 L597.6,351.0 L597.5,351.8 L597.7,352.6 L597.6,353.5 L597.5,354.3 L598.1,355.1 L597.8,356.0 L597.8,356.8 L598.1,357.6 L598.1,358.4 L597.8,359.3 L598.2,360.1 L598.9,360.7 L598.9,361.6 L599.6,362.2 L599.5,363.2 L600.1,363.8 L600.5,363.0 L600.3,362.1 L600.1,361.3 L600.5,360.5 L600.5,359.6 L600.7,358.8 L600.7,358.0 L600.8,357.1 L601.0,356.3 L600.9,355.5 L600.9,354.6 L601.4,353.8 L600.9,352.9 L601.3,352.1 L601.3,351.3 L601.6,352.1 L601.5,353.0 L602.2,353.7 L601.8,354.7 L602.5,355.4 L602.9,356.2 L602.9,357.1 L603.1,357.9 L603.2,358.8 L603.0,357.9 L603.5,357.1 L603.7,356.2 L604.0,355.4 L604.0,354.5 L604.1,353.6 L604.2,352.8 L604.7,352.0 L605.1,351.2 L604.9,350.3 L605.1,349.4 L605.5,350.2 L605.2,351.2 L605.7,351.9 L606.0,352.8 L606.2,353.6 L605.9,354.6 L606.1,355.4 L606.4,356.3 L606.7,357.1 L606.8,358.0 L607.0,358.8 L607.0,358.0 L607.6,357.3 L607.4,356.4 L607.7,355.7 L608.0,354.9 L608.2,354.1 L608.1,353.3 L608.2,352.4 L608.5,351.7 L608.4,350.8 L608.8,350.1 L608.7,350.9 L609.2,351.7 L609.1,352.5 L609.6,353.2 L609.7,354.0 L610.0,354.8 L610.1,355.6 L610.4,356.4 L610.7,357.1 L610.4,358.0 L610.7,358.8 L610.8,357.9 L611.0,357.0 L611.3,356.2 L611.6,355.3 L611.8,354.5 L612.2,353.7 L612.5,352.8 L612.6,351.9 L613.0,352.7 L612.9,353.6 L613.3,354.4 L614.1,354.9 L613.9,355.9 L614.2,356.7 L614.6,357.5 L615.1,358.2 L615.3,357.4 L616.2,356.9 L616.5,356.1 L616.6,355.2 L617.0,354.4 L618.0,354.1 L618.2,353.2 L618.6,354.0 L619.3,354.6 L619.9,355.3 L620.4,356.1 L620.7,357.0 L620.9,356.2 L621.6,355.6 L621.7,354.8 L621.9,354.0 L622.7,353.5 L623.0,352.7 L623.2,351.9 L624.1,352.0 L624.7,352.8 L625.6,352.9 L626.4,353.2 L627.2,352.7 L627.7,352.0 L628.5,351.5 L628.9,350.7 L629.1,351.6 L629.4,352.4 L630.2,353.0 L630.2,354.0 L630.7,354.7 L630.9,355.6 L631.4,356.3 L631.9,357.0 L632.0,357.9 L632.6,358.5 L633.2,359.2 L633.6,359.9 L633.9,360.7 L634.0,359.8 L634.6,359.1 L634.7,358.2 L635.3,357.5 L635.5,356.6 L636.0,355.9 L636.4,355.1 L636.7,354.3 L637.1,353.4 L637.6,352.7 L637.3,351.6 L638.2,351.0 L638.3,350.1 L638.5,349.3 L638.8,348.5 L639.1,347.7 L639.2,346.9" stroke="#0a2f5f" stroke-width="3.55" fill="none" stroke-linejoin="round" stroke-linecap="butt"/>
<path d="M171.7,123.5 V232 M191.25,123.5 V256" stroke="#0a2f5f" stroke-width="3.2" fill="none"/>
<path d="M116.8,105.5 H157.8" stroke="#0a2f5f" stroke-width="2.8" stroke-linecap="round"/>
<text x="163.1" y="110.8" font-size="14.6" fill="#262626" stroke="#262626" stroke-width="0.25" textLength="314.2" lengthAdjust="spacingAndGlyphs">MSCI AC World Small Mid vs. Large Cap</text>
<path d="M506.7,105.5 H547" stroke="#ebe4cf" stroke-width="2.5" stroke-dasharray="10 4.6" fill="none"/>
<text x="553.3" y="110.8" font-size="14.5" fill="#262626" stroke="#262626" stroke-width="0.25" textLength="63" lengthAdjust="spacingAndGlyphs">Average</text>
<text x="652.0" y="350.5" font-size="25.4" font-weight="bold" fill="#404040" textLength="74" lengthAdjust="spacingAndGlyphs">-41%</text>
<text x="634.2" y="380.2" font-size="12.2" font-style="italic" fill="#505050" textLength="115.4" lengthAdjust="spacingAndGlyphs">Low point: -45%</text>
</svg>
</body></html>
